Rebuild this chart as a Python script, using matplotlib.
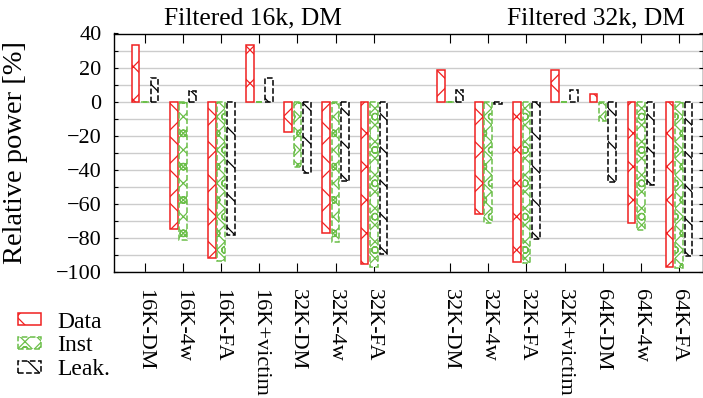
import numpy as np
import matplotlib
matplotlib.use("Agg")
import matplotlib.pyplot as plt

# configurations on the x axis (two panels, gap at position 7)
labels = ["16K-DM", "16K-4w", "16K-FA", "16K+victim", "32K-DM", "32K-4w", "32K-FA",
          "32K-DM", "32K-4w", "32K-FA", "32K+victim", "64K-DM", "64K-4w", "64K-FA"]
positions = [0, 1, 2, 3, 4, 5, 6, 8, 9, 10, 11, 12, 13, 14]

# relative power [%]
data_pw = [33, -75, -91.5, 33, -18, -77, -95.5, 18.5, -66, -94, 18.5, 4.3, -71.5, -97]
inst_pw = [0, -81, -93.5, 0, -38.5, -82.5, -97, 0, -71.5, -95, 0, -11.5, -75.5, -97.5]
leak_pw = [14, 6, -78.5, 14, -42, -46.5, -89.5, 7, -1.5, -80.5, 7, -47, -49, -90.5]

panel_titles = ["Filtered 16k, DM", "Filtered 32k, DM"]

plt.rcParams["font.family"] = ["Liberation Serif", "DejaVu Serif"]
plt.rcParams["hatch.linewidth"] = 0.9

fig = plt.figure(figsize=(7.03, 3.98), dpi=100)
ax = fig.add_axes([114 / 703, 1 - 272 / 398, 1 - 114 / 703, (272 - 33.5) / 398])

x = np.array(positions, dtype=float)
w = 0.2
RED = "#f02020"
GREEN = "#6cbf4a"

styles = [
    dict(edgecolor=RED, hatch="x", linestyle="-"),
    dict(edgecolor=GREEN, hatch="xxo", linestyle="--"),
    dict(edgecolor="black", hatch="\\", linestyle="--"),
]
series = [("Data", data_pw, -0.245), ("Inst", inst_pw, 0.0), ("Leak.", leak_pw, 0.25)]

handles = []
for (name, vals, off), st in zip(series, styles):
    b = ax.bar(x + off, vals, w, facecolor="white", linewidth=1.1, label=name,
               zorder=3, **st)
    handles.append(b)

ax.set_xlim(-0.81, 14.63)
ax.set_ylim(-100, 40)
ax.set_yticks(np.arange(-100, 41, 20))
ax.set_yticks(np.arange(-100, 41, 10), minor=True)
ax.yaxis.grid(True, which="both", color="#cccccc", linewidth=1.0, zorder=0)
ax.set_axisbelow(True)

ax.set_xticks(x)
ax.set_xticklabels(labels, rotation=270, va="top", ha="center")
ax.tick_params(axis="x", direction="in", top=True, length=6.5, width=0.8,
               pad=12, labelsize=16)
ax.tick_params(axis="y", which="both", direction="in", right=True, length=3,
               width=0.8, pad=9, labelsize=16)
for s in ax.spines.values():
    s.set_linewidth(1.0)

ax.set_ylabel("Relative power [%]", fontsize=20.5)
ax.yaxis.set_label_coords(-0.146, 0.5)

fig.text(253 / 703, 1 - 18 / 398, panel_titles[0], fontsize=18.4, ha="center", va="center")
fig.text(596 / 703, 1 - 18 / 398, panel_titles[1], fontsize=18.4, ha="center", va="center")

fig.legend(handles=handles, loc="center left", bbox_to_anchor=(0.026, 0.131),
           frameon=False, fontsize=17, handlelength=0.97, handleheight=0.42,
           handletextpad=0.68, labelspacing=0.12, borderpad=0, borderaxespad=0)

fig.savefig("out.png", dpi=100)
